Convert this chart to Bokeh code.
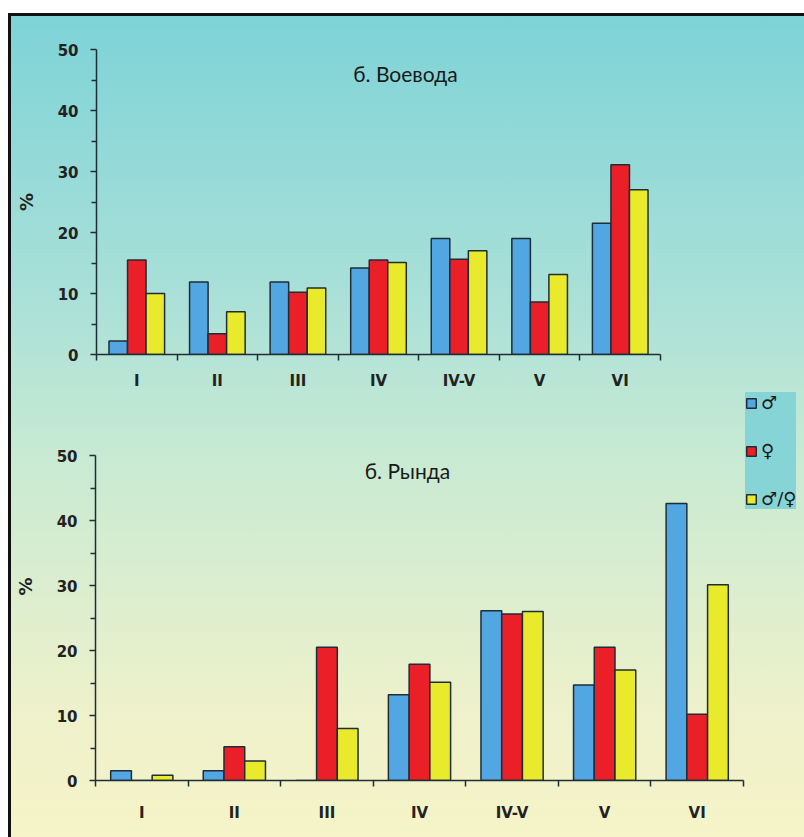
from bokeh.plotting import figure
from bokeh.layouts import column, row
from bokeh.models import (FixedTicker, Label, Legend, LegendItem, ColumnDataSource)
from bokeh.embed import file_html
from bokeh.resources import INLINE
import numpy as np

categories = ["I", "II", "III", "IV", "IV-V", "V", "VI"]
series_labels = ["\u2642", "\u2640", "\u2642/\u2640"]
series_colors = ["#52a6e2", "#ea1f27", "#eaea2c"]

voevoda_male = [2.2, 11.9, 11.9, 14.2, 19.0, 19.0, 21.5]
voevoda_female = [15.5, 3.4, 10.2, 15.5, 15.6, 8.6, 31.1]
voevoda_both = [10.0, 7.0, 10.9, 15.1, 17.0, 13.1, 27.0]

rynda_male = [1.5, 1.5, 0.0, 13.2, 26.1, 14.7, 42.6]
rynda_female = [0.0, 5.2, 20.5, 17.9, 25.6, 20.5, 10.2]
rynda_both = [0.8, 3.0, 8.0, 15.1, 26.0, 17.0, 30.1]

y_ticks = [0, 10, 20, 30, 40, 50]
y_minor = [5, 15, 25, 35, 45]

OUTLINE = "#1f2d36"
TICK_FONT = "DejaVu Sans"


def make_chart(title, series, width, height, bl, br, bt, bb, title_x, title_y, bar_w,
               y_end, x_standoff):
    n = len(categories)
    p = figure(width=width, height=height, x_range=(0, n), y_range=(0, y_end),
               output_backend="svg", toolbar_location=None,
               min_border_left=bl, min_border_right=br, min_border_top=bt, min_border_bottom=bb)
    p.background_fill_color = None
    p.border_fill_color = None
    p.outline_line_color = None
    p.grid.visible = False

    centers = np.arange(n) + 0.5
    sources = []
    for k, vals in enumerate(series):
        off = (k - 1) * bar_w
        src = ColumnDataSource(dict(x=centers + off, top=vals))
        p.vbar(x="x", top="top", bottom=0, width=bar_w, source=src,
               fill_color=series_colors[k], line_color=OUTLINE, line_width=1.5)
        sources.append(src)

    # x axis: labels at group centres, tick marks at group boundaries
    p.xaxis.ticker = FixedTicker(ticks=list(centers), minor_ticks=list(range(n + 1)))
    p.xaxis.major_label_overrides = {float(c): cat for c, cat in zip(centers, categories)}
    p.xaxis.major_tick_line_color = None
    p.xaxis.minor_tick_line_color = OUTLINE
    p.xaxis.minor_tick_line_width = 1.5
    p.xaxis.minor_tick_out = 6
    p.xaxis.minor_tick_in = 0
    p.xaxis.major_label_standoff = x_standoff
    p.xaxis.major_label_text_font = TICK_FONT
    p.xaxis.major_label_text_font_style = "bold"
    p.xaxis.major_label_text_font_size = "15px"
    p.xaxis.major_label_text_color = "#222222"
    p.xaxis.axis_line_color = OUTLINE
    p.xaxis.axis_line_width = 1.5

    p.yaxis.ticker = FixedTicker(ticks=y_ticks, minor_ticks=y_minor)
    p.yaxis.bounds = (0, 50)
    p.yaxis.major_tick_out = 6
    p.yaxis.major_tick_in = 0
    p.yaxis.minor_tick_out = 5
    p.yaxis.minor_tick_in = 0
    p.yaxis.major_tick_line_color = OUTLINE
    p.yaxis.minor_tick_line_color = OUTLINE
    p.yaxis.major_tick_line_width = 1.5
    p.yaxis.minor_tick_line_width = 1.5
    p.yaxis.axis_line_color = OUTLINE
    p.yaxis.axis_line_width = 1.5
    p.yaxis.major_label_text_font = TICK_FONT
    p.yaxis.major_label_text_font_style = "bold"
    p.yaxis.major_label_text_font_size = "15px"
    p.yaxis.major_label_text_color = "#222222"
    p.yaxis.major_label_standoff = 12
    p.yaxis.axis_label = "%"
    p.yaxis.axis_label_text_font = TICK_FONT
    p.yaxis.axis_label_text_font_style = "bold"
    p.yaxis.axis_label_text_font_size = "18px"
    p.yaxis.axis_label_text_color = "#222222"
    p.yaxis.axis_label_standoff = 18

    lab = Label(x=title_x, y=title_y, x_units="screen", y_units="screen", text=title,
                text_font="Lato", text_font_size="21px", text_color="#1a1a1a",
                text_align="center", text_baseline="middle")
    p.add_layout(lab)
    return p, sources


# top chart: frame x 96..660, y 49..356
top, _ = make_chart("\u0431. \u0412\u043e\u0435\u0432\u043e\u0434\u0430",
                    [voevoda_male, voevoda_female, voevoda_both],
                    width=804, height=392, bl=96, br=144, bt=49, bb=36,
                    title_x=405 - 96, title_y=356 - 75, bar_w=0.23,
                    y_end=50, x_standoff=11)

# bottom chart: frame x 95..743, values 0..50 span y 780..455; frame top at figure top (392)
y_end_b = 50 * (780 - 392) / (780 - 455)
bottom, rsrc = make_chart("\u0431. \u0420\u044b\u043d\u0434\u0430",
                          [rynda_male, rynda_female, rynda_both],
                          width=745, height=445, bl=95, br=2, bt=0, bb=57,
                          title_x=407 - 95, title_y=780 - 470, bar_w=0.224,
                          y_end=y_end_b, x_standoff=17)

# legend panel to the right of the bottom chart (proxy renderers share the data, hidden)
lp = figure(width=59, height=445, x_range=(0, 1), y_range=(0, 1),
            output_backend="svg", toolbar_location=None,
            min_border_left=0, min_border_right=0, min_border_top=0, min_border_bottom=57)
lp.axis.visible = False
lp.grid.visible = False
lp.background_fill_color = None
lp.border_fill_color = None
lp.outline_line_color = None
proxies = []
for k in range(3):
    r = lp.vbar(x="x", top="top", width=0.2, source=rsrc[k],
                fill_color=series_colors[k], line_color=OUTLINE, line_width=1.5)
    r.visible = False
    proxies.append(r)
legend = Legend(items=[LegendItem(label=series_labels[i], renderers=[proxies[i]]) for i in range(3)],
                location="top_left", orientation="vertical",
                background_fill_color="#87d4d6", background_fill_alpha=1.0,
                border_line_color=None, glyph_width=12, glyph_height=12,
                label_text_font="DejaVu Sans", label_text_font_size="18px",
                label_text_color="#1a1a1a", label_standoff=4, label_height=20,
                spacing=27, padding=7, margin=0, inactive_fill_alpha=0.0)
lp.add_layout(legend)

bg = ("linear-gradient(to right, #ffffff 0px, #ffffff 8px, #111111 8px, #111111 11px, transparent 11px) 0 13px / 100% 100% no-repeat, "
      "linear-gradient(to bottom, #ffffff 0px, #ffffff 13px, #111111 13px, #111111 16px, "
      "#7ed3d7 16px, #a9e0d8 35%, #c9ead3 55%, #eef1cb 85%, #f6f4c8 100%)")

layout = column(top, row(bottom, lp, spacing=0), spacing=0, styles={"background": bg})

open("out.html", "w").write(file_html(layout, INLINE))
